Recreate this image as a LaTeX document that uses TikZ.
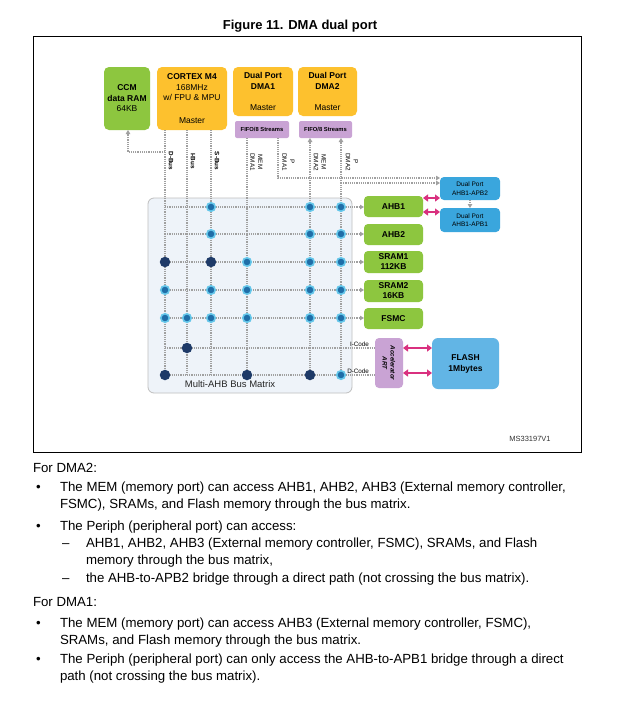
\documentclass[tikz,border=0pt]{standalone}
\usepackage{fontspec}
\setmainfont{Liberation Sans}
\usetikzlibrary{arrows.meta}
\definecolor{grn}{HTML}{8DC63F}
\definecolor{ylw}{HTML}{FDC12E}
\definecolor{prp}{HTML}{C9A3D4}
\definecolor{blu}{HTML}{3AA6DD}
\definecolor{lblu}{HTML}{62B5E5}
\definecolor{mag}{HTML}{D9307F}
\definecolor{mtx}{HTML}{EEF3F9}
\definecolor{dotline}{HTML}{A0A0A0}
\definecolor{navy}{HTML}{1E3A68}
\definecolor{dotc}{HTML}{1F6EA8}
\definecolor{halo}{HTML}{66C7EA}
\begin{document}
\begin{tikzpicture}[x=1pt,y=-1pt,
  every node/.style={inner sep=0pt, outer sep=0pt},
  box/.style={rounded corners=5pt, align=center, text=black},
  fb/.style={font=\fontsize{8.5}{10.5}\selectfont\bfseries},
  fr/.style={font=\fontsize{8.5}{10.5}\selectfont},
  small/.style={font=\fontsize{6.3}{7.5}\selectfont\bfseries},
  dmalbl/.style={rotate=-90, align=center, font=\fontsize{6.3}{7.8}\selectfont},
  dl/.style={draw=dotline, line width=1.9pt, dash pattern=on 1.2pt off 1.0pt},
  arr/.style={-{Triangle[length=4pt,width=4.5pt]}},
  mg/.style={draw=mag, line width=2.2pt, {Triangle[length=5pt,width=7pt]}-{Triangle[length=5pt,width=7pt]}},
  ldot/.style={circle, fill=dotc, draw=halo, line width=1.6pt, minimum size=8.5pt},
  ddot/.style={circle, fill=navy, minimum size=10.5pt},
  body/.style={anchor=base west, font=\fontsize{13.25}{15}\selectfont},
]
\useasboundingbox (0,0) rectangle (620,710);
\fill[white] (0,0) rectangle (620,710);

% title and frame
\node[font=\fontsize{13}{15}\selectfont\bfseries] (title) at (300,26) {Figure 11. DMA dual port};
\draw[line width=0.9pt] (33,36) rectangle (581,452);
\node[font=\fontsize{7.5}{9}\selectfont, text=black!80] (ms) at (530,439) {MS33197V1};

% column / row coordinates
\coordinate (cD) at (165,0);
\coordinate (cI) at (187,0);
\coordinate (cS) at (211,0);
\coordinate (cM1) at (247,0);
\coordinate (cP1) at (278,0);
\coordinate (cM2) at (310,0);
\coordinate (cP2) at (341,0);
\coordinate (rA1) at (0,207);
\coordinate (rA2) at (0,234);
\coordinate (rS1) at (0,262);
\coordinate (rS2) at (0,290);
\coordinate (rF) at (0,318);
\coordinate (rIC) at (0,348);
\coordinate (rDC) at (0,375);
\coordinate (rP1) at (0,178);
\coordinate (rP2) at (0,183);
\coordinate (rCC) at (0,152);
\coordinate (cCC) at (128,0);
\coordinate (m1) at (0,198);
\coordinate (m2) at (0,212);
\coordinate (m4) at (0,373);

% matrix background
\node[draw=black!25, fill=mtx, rounded corners=6pt, minimum width=204pt, minimum height=195pt, line width=0.8pt] (mat) at (250,295.5) {};
\node[font=\fontsize{9.5}{11}\selectfont, text=black!85] (matlbl) at (230,384) {Multi-AHB Bus Matrix};

% top boxes
\node[box, fill=grn, minimum width=46pt, minimum height=63pt, fb] (ccm) at (127,98.5) {CCM\\data RAM\\\mdseries 64KB};
\node[box, fill=ylw, minimum width=70pt, minimum height=63pt, fr] (cortex) at (192,98.5) {\textbf{CORTEX M4}\\168MHz\\w/ FPU \& MPU\\[12pt]Master};
\node[box, fill=ylw, minimum width=60pt, minimum height=49pt, fr] (dma1) at (263,91.5) {\textbf{Dual Port}\\\textbf{DMA1}\\[11pt]Master};
\node[box, fill=ylw, minimum width=59pt, minimum height=49pt, fr] (dma2) at (327.5,91.5) {\textbf{Dual Port}\\\textbf{DMA2}\\[11pt]Master};
\node[box, rounded corners=2pt, fill=prp, minimum width=54pt, minimum height=17pt, font=\fontsize{5.8}{7}\selectfont\bfseries] (fifo1) at (262,129.5) {FIFO/8 Streams};
\node[box, rounded corners=2pt, fill=prp, minimum width=53pt, minimum height=17pt, font=\fontsize{5.8}{7}\selectfont\bfseries] (fifo2) at (325.5,129.5) {FIFO/8 Streams};

% slave boxes
\node[box, rounded corners=4pt, fill=grn, minimum width=59pt, minimum height=21pt, fb] (ahb1) at (393.5,206.5) {AHB1};
\node[box, rounded corners=4pt, fill=grn, minimum width=59pt, minimum height=21pt, fb] (ahb2) at (393.5,234.5) {AHB2};
\node[box, rounded corners=4pt, fill=grn, minimum width=59pt, minimum height=22pt, font=\fontsize{8.5}{10}\selectfont\bfseries] (sram1) at (393.5,262) {SRAM1\\112KB};
\node[box, rounded corners=4pt, fill=grn, minimum width=59pt, minimum height=22pt, font=\fontsize{8.5}{10}\selectfont\bfseries] (sram2) at (393.5,291) {SRAM2\\16KB};
\node[box, rounded corners=4pt, fill=grn, minimum width=59pt, minimum height=21pt, fb] (fsmc) at (393.5,318.5) {FSMC};
\node[box, rounded corners=4pt, fill=blu, minimum width=60pt, minimum height=23pt, font=\fontsize{6.5}{8.5}\selectfont] (apb2) at (470,188.5) {Dual Port\\AHB1-APB2};
\node[box, rounded corners=4pt, fill=blu, minimum width=60pt, minimum height=24pt, font=\fontsize{6.5}{8.5}\selectfont] (apb1) at (470,220) {Dual Port\\AHB1-APB1};
\node[box, rounded corners=4pt, fill=prp, minimum width=28pt, minimum height=50pt] (art) at (389,363) {};
\node[rotate=-90, align=center, font=\fontsize{6.3}{8}\selectfont\bfseries\itshape] (artlbl) at (art.center) {Accelerator\\ART};
\node[box, rounded corners=6pt, fill=lblu, minimum width=67pt, minimum height=51pt, font=\fontsize{8.5}{11}\selectfont\bfseries] (flash) at (465.5,363.5) {FLASH\\1Mbytes};

% vertical buses
\draw[dl] (cortex.south -| cD) -- (cD |- rDC);
\draw[dl] (cortex.south -| cI) -- (cI |- rDC);
\draw[dl] (cortex.south -| cS) -- (cS |- rDC);
\draw[dl] (fifo1.south -| cM1) -- (cM1 |- rDC);
\draw[dl, arr] (fifo1.south -| cP1) -- (cP1 |- rP1) -- (apb2.west |- rP1);
\draw[dl, arr] (cM2 |- rDC) -- (fifo2.south -| cM2);
\draw[dl, arr] (cP2 |- rDC) -- (fifo2.south -| cP2);
\draw[dl, arr] (cP2 |- rP2) -- (apb2.west |- rP2);
\draw[dl, arr] (cD |- rCC) -- (cCC |- rCC) -- (ccm.south -| cCC);
\draw[dl, arr] (apb2.south) -- (apb1.north);

% horizontal rows
\draw[dl, arr] (cD |- rA1) -- (ahb1.west |- rA1);
\draw[dl, arr] (cD |- rA2) -- (ahb2.west |- rA2);
\draw[dl, arr] (cD |- rS1) -- (sram1.west |- rS1);
\draw[dl, arr] (cD |- rS2) -- (sram2.west |- rS2);
\draw[dl, arr] (cD |- rF) -- (fsmc.west |- rF);
\draw[dl] (cD |- rIC) -- (art.west |- rIC);
\draw[dl] (cD |- rDC) -- (art.west |- rDC);

% magenta links
\draw[mg] (ahb1.east |- m1) -- (apb2.west |- m1);
\draw[mg] (ahb1.east |- m2) -- (apb1.west |- m2);
\draw[mg] (art.east |- rIC) -- (flash.west |- rIC);
\draw[mg] (art.east |- m4) -- (flash.west |- m4);

% bus labels
\node[rotate=-90, small] (lD) at (171,161) {D-Bus};
\node[rotate=-90, small] (lI) at (193,161) {I-Bus};
\node[rotate=-90, small] (lS) at (217,161) {S-Bus};
\node[dmalbl] (lM1) at (256.5,162) {MEM\\DMA1};
\node[dmalbl] (lP1) at (288.5,162) {P\\DMA1};
\node[dmalbl] (lM2) at (320,162) {MEM\\DMA2};
\node[dmalbl] (lP2) at (352,162) {P\\DMA2};
\node[anchor=east, font=\fontsize{6.3}{7}\selectfont] (lic) at (369,344.5) {I-Code};
\node[anchor=east, font=\fontsize{6.3}{7}\selectfont] (ldc) at (369,371.5) {D-Code};

% crossing dots
\foreach \c/\r in {cS/rA1,cM2/rA1,cP2/rA1, cS/rA2,cM2/rA2,cP2/rA2,
  cM1/rS1,cM2/rS1,cP2/rS1, cD/rS2,cS/rS2,cM1/rS2,cM2/rS2,cP2/rS2,
  cD/rF,cI/rF,cS/rF,cM1/rF,cM2/rF,cP2/rF, cP2/rDC}
  \node[ldot] (l\c\r) at (\c |- \r) {};
\foreach \c/\r in {cD/rS1,cS/rS1,cI/rIC,cD/rDC,cM1/rDC,cM2/rDC}
  \node[ddot] (d\c\r) at (\c |- \r) {};

% body text
\node[body] (t1) at (33,472) {For DMA2:};
\node[body] (b1) at (36,491) {•};
\node[body] (t2) at (60,491) {The MEM (memory port) can access AHB1, AHB2, AHB3 (External memory controller,};
\node[body] (t3) at (60,508) {FSMC), SRAMs, and Flash memory through the bus matrix.};
\node[body] (b2) at (36,530) {•};
\node[body] (t4) at (60,530) {The Periph (peripheral port) can access:};
\node[body] (d1) at (62,547) {–};
\node[body] (t5) at (86,547) {AHB1, AHB2, AHB3 (External memory controller, FSMC), SRAMs, and Flash};
\node[body] (t6) at (86,564) {memory through the bus matrix,};
\node[body] (d2) at (62,582) {–};
\node[body] (t7) at (86,582) {the AHB-to-APB2 bridge through a direct path (not crossing the bus matrix).};
\node[body] (t8) at (33,606) {For DMA1:};
\node[body] (b3) at (36,627) {•};
\node[body] (t9) at (60,627) {The MEM (memory port) can access AHB3 (External memory controller, FSMC),};
\node[body] (t10) at (60,644) {SRAMs, and Flash memory through the bus matrix.};
\node[body] (b4) at (36,663) {•};
\node[body] (t11) at (60,663) {The Periph (peripheral port) can only access the AHB-to-APB1 bridge through a direct};
\node[body] (t12) at (60,680) {path (not crossing the bus matrix).};
\end{tikzpicture}
\end{document}
